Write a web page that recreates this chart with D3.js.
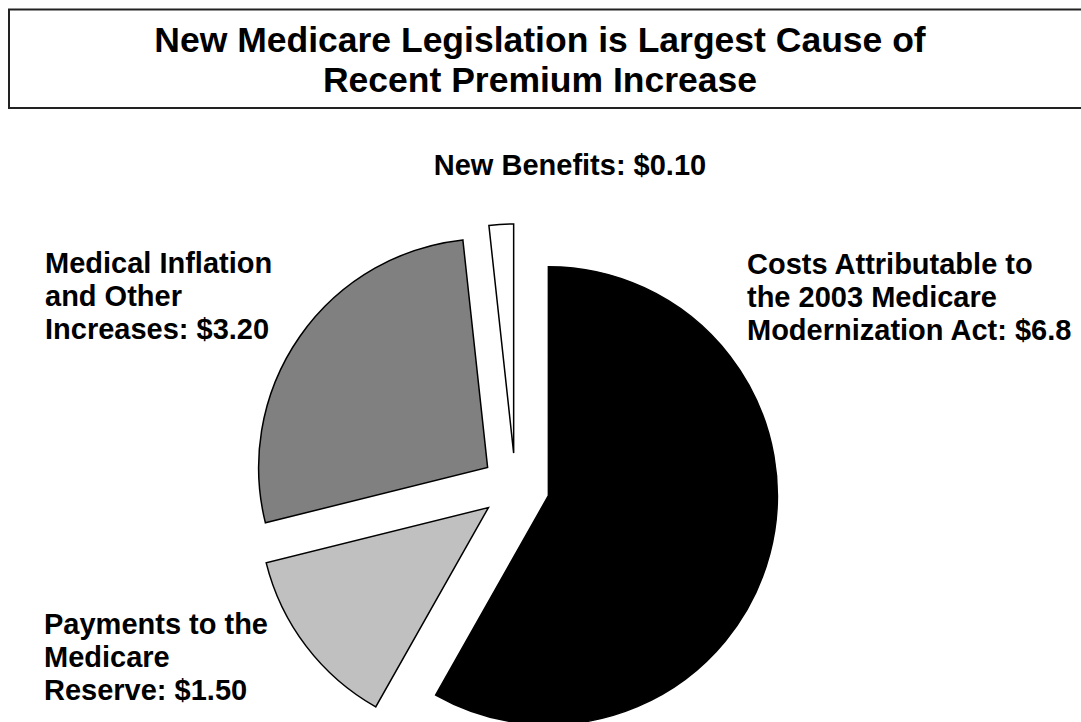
<!DOCTYPE html>
<html lang="en">
<head>
<meta charset="utf-8">
<title>Medicare premium increase</title>
<script src="https://d3js.org/d3.v7.min.js"></script>
<style>
  body { margin: 0; background: #fff; }
  text { font-family: "Liberation Sans", Arial, sans-serif; font-weight: bold; fill: #000; }
</style>
</head>
<body>
<script>
// chart data
var categories = ["Costs Attributable", "Payments to Reserve", "Medical Inflation", "New Benefits"];
var values = [6.75, 1.5, 3.15, 0.2];   // slice sizes as drawn
var colors = ["#000000", "#c0c0c0", "#808080", "#ffffff"];
var labelLines = [
  ["Costs Attributable to", "the 2003 Medicare", "Modernization Act: $6.8"],
  ["Payments to the", "Medicare", "Reserve: $1.50"],
  ["Medical Inflation", "and Other", "Increases: $3.20"],
  ["New Benefits: $0.10"]
];
var titleLines = ["New Medicare Legislation is Largest Cause of", "Recent Premium Increase"];

var w = 1081, h = 722;
var cx = 515.5, cy = 487, radius = 229, explode = 34;

var svg = d3.select("body").append("svg").attr("width", w).attr("height", h);

// title box
svg.append("rect")
  .attr("x", 9).attr("y", 9.5)
  .attr("width", 1100).attr("height", 98.5)
  .attr("fill", "none").attr("stroke", "#222").attr("stroke-width", 2);

svg.selectAll(".title").data(titleLines).enter().append("text")
  .attr("class", "title")
  .attr("x", 540).attr("y", function(d, i) { return 52 + i * 40; })
  .attr("text-anchor", "middle")
  .style("font-size", "35.5px")
  .text(function(d) { return d; });

// pie
var pie = d3.pie().sort(null).startAngle(0).endAngle(2 * Math.PI);
var arc = d3.arc().innerRadius(0).outerRadius(radius);
var arcs = pie(values);

svg.append("g").selectAll("path").data(arcs).enter().append("path")
  .attr("d", arc)
  .attr("transform", function(d) {
    var a = (d.startAngle + d.endAngle) / 2;
    return "translate(" + (cx + explode * Math.sin(a)) + "," + (cy - explode * Math.cos(a)) + ")";
  })
  .attr("fill", function(d, i) { return colors[i]; })
  .attr("stroke", "#000")
  .attr("stroke-width", 1.5)
  .attr("stroke-linejoin", "miter");

// labels
var labelPos = [
  {x: 747, y: 274, anchor: "start"},
  {x: 44, y: 634, anchor: "start"},
  {x: 45, y: 273, anchor: "start"},
  {x: 570, y: 175, anchor: "middle"}
];

labelLines.forEach(function(lines, i) {
  var t = svg.append("text")
    .attr("x", labelPos[i].x).attr("y", labelPos[i].y)
    .attr("text-anchor", labelPos[i].anchor)
    .style("font-size", "29px");
  lines.forEach(function(l, j) {
    t.append("tspan").attr("x", labelPos[i].x).attr("dy", j === 0 ? 0 : 33).text(l);
  });
});
</script>
</body>
</html>
